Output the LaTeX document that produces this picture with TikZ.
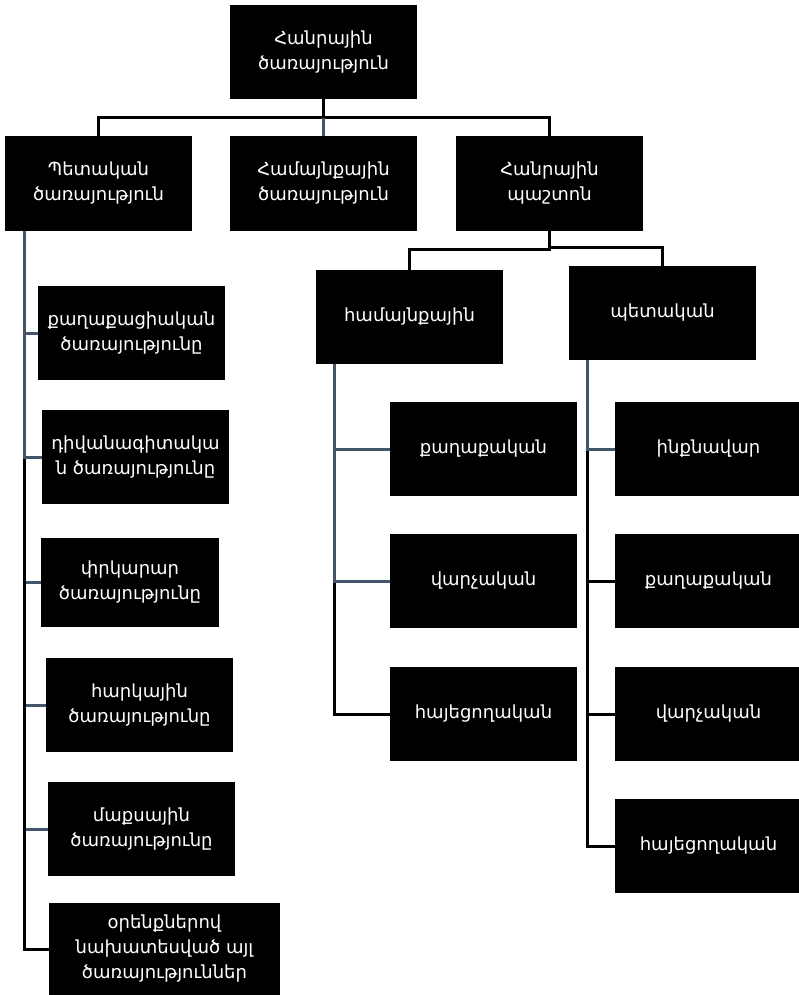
\documentclass[tikz,border=0pt]{standalone}
\usepackage{fontspec}
\setmainfont{DejaVu Sans}
\usepackage{tikz}
\usetikzlibrary{positioning}
\usepackage{xcolor}
\definecolor{slate}{HTML}{44546A}

\begin{document}
\begin{tikzpicture}[x=1pt,y=-1pt,line width=3pt,
                    font=\fontsize{18}{25}\selectfont]
  \tikzset{box/.style={rectangle,fill=black,text=white,align=center,inner sep=0pt,outer sep=0pt,
                       minimum width=187pt,minimum height=94pt}}
  \tikzset{link/.style={draw=black}}
  \tikzset{slate link/.style={draw=slate}}
  \useasboundingbox (0,0) rectangle (799,995);

  % top levels
  \node[box]         (root)  at (323.5,52)    {Հանրային\\ծառայություն};
  \node[box]         (state) at (98.5,183.5)  {Պետական\\ծառայություն};
  \node[box]         (comm)  [right=38pt of state] {Համայնքային\\ծառայություն};
  \node[box]         (post)  [right=39pt of comm]  {Հանրային\\պաշտոն};

  \node[box]         (phcomm) at (409.5,316.5) {համայնքային};
  \node[box]         (phstate) at (662.5,312.5) {պետական};

  % left column
  \node[box]         (civ)  at (131.5,333)   {քաղաքացիական\\ծառայությունը};
  \node[box]         (dip)  at (135.5,457)   {դիվանագիտակա\\ն ծառայությունը};
  \node[box,minimum width=178pt,minimum height=89pt] (res) at (130,582.5) {փրկարար\\ծառայությունը};
  \node[box]         (tax)  at (139.5,705)   {հարկային\\ծառայությունը};
  \node[box]         (cus)  at (141.5,829)   {մաքսային\\ծառայությունը};
  \node[box,minimum width=231pt,minimum height=92pt] (oth) at (164.5,949) {օրենքներով\\նախատեսված այլ\\ծառայություններ};

  % middle column
  \node[box]         (cpol) at (483.5,449)   {քաղաքական};
  \node[box]         (cadm) [below=38pt of cpol] {վարչական};
  \node[box]         (cdis) [below=39pt of cadm] {հայեցողական};

  % right column
  \node[box]         (sind) at (708.5,449)   {ինքնավար};
  \node[box]         (spol) [below=38pt of sind] {քաղաքական};
  \node[box]         (sadm) [below=39pt of spol] {վարչական};
  \node[box]         (sdis) [below=38pt of sadm] {հայեցողական};

  \coordinate (bar) at (323.5,118);
  \draw[link] (root.south) -- (bar);
  \draw[link] (state.north) |- (bar) -| (post.north);
  \draw[slate link] (bar) -- (comm.north);

  \draw[link] (post.south) -- ++(0,19) -| (phcomm.north);
  \draw[link] (post.south) -- ++(0,17) -| (phstate.north);

  \draw[slate link] ([xshift=19pt]state.south west) |- (res.west);
  \draw[slate link] ([xshift=19pt]state.south west) |- (tax.west);
  \draw[slate link] ([xshift=19pt]state.south west) |- (cus.west);
  \draw[link] ([xshift=19pt]state.south west) |- (oth.west);
  \draw[slate link] ([xshift=19pt]state.south west) |- (civ.west);
  \draw[slate link] ([xshift=19pt]state.south west) |- (dip.west);

  \draw[link] ([xshift=18pt]phcomm.south west) |- (cdis.west);
  \draw[slate link] ([xshift=18pt]phcomm.south west) |- (cpol.west);
  \draw[slate link] ([xshift=18pt]phcomm.south west) |- (cadm.west);

  \draw[link] ([xshift=18pt]phstate.south west) |- (spol.west);
  \draw[link] ([xshift=18pt]phstate.south west) |- (sadm.west);
  \draw[link] ([xshift=18pt]phstate.south west) |- (sdis.west);
  \draw[slate link] ([xshift=18pt]phstate.south west) |- (sind.west);
\end{tikzpicture}
\end{document}
